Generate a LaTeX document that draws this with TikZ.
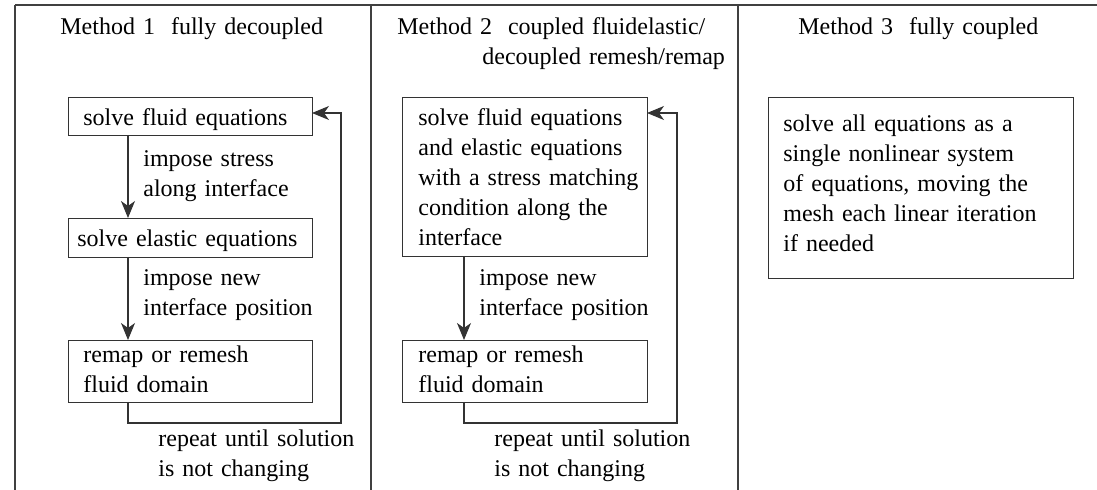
\documentclass[tikz,border=0pt]{standalone}
\usepackage{fontspec}
\setmainfont{Liberation Serif}
\usetikzlibrary{arrows.meta}
\begin{document}
\begin{tikzpicture}[x=0.5pt,y=-0.5pt,
  rule/.style={draw=black!75, line width=0.65pt},
  stepbox/.style={draw=black!80, line width=0.55pt, inner sep=0pt, anchor=north west},
  txt/.style={anchor=base west, inner sep=0pt, text width=160pt, align=left,
              font=\fontsize{12}{15}\selectfont},
  flow/.style={draw=black!80, line width=0.55pt,
               -{Stealth[length=8.5pt,width=7pt,inset=2.5pt]}}]
\useasboundingbox (0,0) rectangle (1097,490);

% frame and column dividers
\coordinate (tl) at (15,5);
\coordinate (tr) at (1097,5);
\coordinate (d1) at (371,5);
\coordinate (d2) at (738,5);
\draw[rule] (tl) -- (tr);
\draw[rule] (tl) -- (15,490);
\draw[rule] (d1) -- (371,490);
\draw[rule] (d2) -- (738,490);

% column titles
\node[txt] (t1) at (60,35) {Method 1\ \ fully decoupled};
\node[txt] (t2a) at (397,35) {Method 2\ \ coupled fluidelastic/};
\node[txt] (t2b) at (482,65) {decoupled remesh/remap};
\node[txt] (t3) at (798,35) {Method 3\ \ fully coupled};

% ---------- Method 1 ----------
\node[stepbox, minimum width=122pt, minimum height=19pt] (a1) at (68,97) {};
\node[stepbox, minimum width=122pt, minimum height=19.5pt] (a2) at (68,218) {};
\node[stepbox, minimum width=122pt, minimum height=31pt] (a3) at (68,340) {};
\node[txt] (a1t) at (83,126) {solve fluid equations};
\node[txt] (a2t) at (77,247) {solve elastic equations};
\node[txt] (a3t) at (83,363) {remap or remesh\\fluid domain};
\node[txt] (a12l) at (143,167) {impose stress\\along interface};
\node[txt] (a23l) at (143,286) {impose new\\interface position};
\node[txt] (a31l) at (158,447) {repeat until solution\\is not changing};

\coordinate (a1s) at (128,135);
\coordinate (a2n) at (128,218);
\coordinate (a2s) at (128,257);
\coordinate (a3n) at (128,340);
\coordinate (a3s) at (128,402);
\coordinate (a1e) at (312,113);
\draw[flow] (a1s) -- (a2n);
\draw[flow] (a2s) -- (a3n);
\draw[flow] (a3s) -- (128,423) -- (341,423) -- (341,113) -- (a1e);

% ---------- Method 2 ----------
\node[stepbox, minimum width=122.5pt, minimum height=79.5pt] (b1) at (402,97) {};
\node[stepbox, minimum width=122.5pt, minimum height=31pt] (b2) at (402,340) {};
\node[txt] (b1t) at (418,126) {solve fluid equations\\and elastic equations\\with a stress matching\\condition along the\\interface};
\node[txt] (b2t) at (418,363) {remap or remesh\\fluid domain};
\node[txt] (b12l) at (479,286) {impose new\\interface position};
\node[txt] (b21l) at (494,447) {repeat until solution\\is not changing};

\coordinate (b1s) at (464,256);
\coordinate (b2n) at (464,340);
\coordinate (b2s) at (464,402);
\coordinate (b1e) at (647,113);
\draw[flow] (b1s) -- (b2n);
\draw[flow] (b2s) -- (464,423) -- (677,423) -- (677,113) -- (b1e);

% ---------- Method 3 ----------
\node[stepbox, minimum width=152.5pt, minimum height=90.5pt] (c1) at (768,97) {};
\node[txt] (c1t) at (783,132) {solve all equations as a\\single nonlinear system\\of equations, moving the\\mesh each linear iteration\\if needed};
\end{tikzpicture}
\end{document}
